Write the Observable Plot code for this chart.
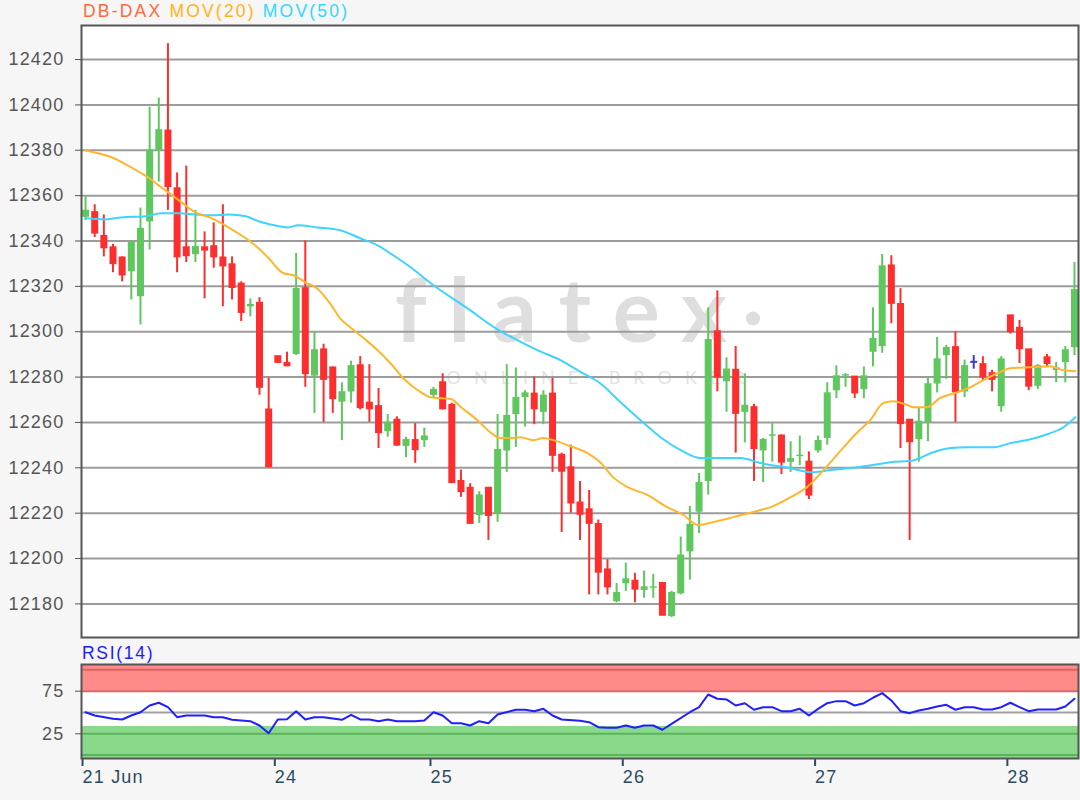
<!DOCTYPE html>
<html>
<head>
<meta charset="utf-8">
<script src="https://cdn.jsdelivr.net/npm/d3@7"></script>
<script src="https://cdn.jsdelivr.net/npm/@observablehq/plot@0.6"></script>
<style>
  html, body { margin: 0; padding: 0; background: #f6f6f6; }
  #wrap { position: relative; width: 1080px; height: 800px; background: #f6f6f6; font-family: "Liberation Sans", Arial, sans-serif; overflow: hidden; }
  #main { position: absolute; left: 0; top: 0; }
  #rsi { position: absolute; left: 0; top: 640px; }
  #legend { position: absolute; left: 83px; top: 3px; font-size: 17.5px; line-height: 1; white-space: nowrap; letter-spacing: 2.2px; }
  #rsiLabel { position: absolute; left: 82px; top: 645px; font-size: 17.5px; line-height: 1; color: #1a1aff; letter-spacing: 1.7px; }
  svg g[aria-label$="tick label"] text { letter-spacing: 1.2px; }
</style>
</head>
<body>
<div id="wrap">
  <div id="main"></div>
  <div id="rsi"></div>
  <div id="legend"><span style="color:#ff6a3d">DB-DAX</span> <span style="color:#ffb31a">MOV(20)</span> <span style="color:#33d6ff">MOV(50)</span></div>
  <div id="rsiLabel">RSI(14)</div>
</div>
<script>
// ---- Candle data (hourly bars, index 0 = first bar on 21 Jun) ----
const open = [12350,12352.5,12342,12337,12332.5,12326,12315,12348,12379.5,12388.5,
  12363,12337,12333.5,12337,12337.5,12332.5,12329.5,12321,12310.5,12312.5,
  12265.5,12289,12286,12289.5,12319,12280,12292,12284,12268.5,12273,
  12285,12268.5,12267,12255.5,12261,12249,12252,12251.5,12271.5,12277.5,
  12267.5,12234,12231,12218.5,12231,12219,12247,12263,12270.5,12272.5,
  12264,12272.5,12245.5,12240,12224.5,12221.5,12215,12195,12180.5,12188.5,
  12190,12185.5,12186.5,12189,12174,12184,12202.5,12220,12233.5,12300,
  12277.5,12283,12264,12266.5,12247,12253.5,12254,12242,12244.5,12242.5,
  12247,12252.5,12273.5,12280,12280,12274,12290.5,12293,12329,12312,
  12261,12252,12259.5,12276.5,12289,12293,12273,12286.5,12285.5,12281.5,
  12266.5,12307,12301.5,12292,12275.5,12288.5,12282.5,12286,12292.5];
const high = [12360,12356,12351.5,12338.5,12333,12340,12354.5,12399,12403,12427,
  12370,12373,12353.5,12344,12348,12356,12333,12322,12314.5,12315,
  12279.5,12289,12291,12334.5,12340,12300,12294.5,12284.5,12277.5,12287,
  12289,12285.5,12275,12263.5,12262.5,12253.5,12259.5,12257.5,12275.5,12281.5,
  12268.5,12239,12233,12229.5,12231,12263.5,12285.5,12284,12274,12280,
  12274,12279.5,12246.5,12250,12234,12230,12217,12199.5,12189,12198,
  12193.5,12194.5,12193,12189.5,12185.5,12209.5,12223,12237.5,12310.5,12318,
  12288.5,12293.5,12281.5,12268,12253,12259.5,12254.5,12251.5,12254,12247,
  12254,12277.5,12285,12281.5,12280,12284.5,12310.5,12334,12333.5,12319,
  12261,12266.5,12280,12297.5,12294,12300,12287.5,12289.5,12289,12283,
  12289,12307,12305,12292,12285.5,12290,12286.5,12293.5,12330.5];
const low = [12349,12341.5,12333,12326,12322,12314,12303,12336,12366,12353.5,
  12326,12330.5,12330.5,12314.5,12328,12311,12314,12304.5,12306.5,12272,
  12240,12286,12284.5,12289.5,12275.5,12264,12260,12264,12252,12268.5,
  12265.5,12260,12248.5,12253.5,12249.5,12244.5,12242,12249,12271,12265.5,
  12233.5,12227,12215.5,12215.5,12208,12216,12238,12249,12258,12259,
  12259,12238,12211.5,12220,12208,12184,12184,12184,12180.5,12185.5,
  12180.5,12182.5,12182.5,12175,12174,12184,12190.5,12211,12228,12273.5,
  12264.5,12246.5,12251,12234,12233.5,12242.5,12237,12238,12241,12226,
  12246.5,12250,12270.5,12275.5,12270.5,12270.5,12284.5,12290.5,12303.5,12248.5,
  12208,12242.5,12251.5,12273,12279,12260,12271,12283.5,12278.5,12273.5,
  12264.5,12299,12286,12274,12274.5,12284.5,12277.5,12277.5,12289.5];
const close = [12354,12343.5,12337,12330,12325,12340,12346,12380.5,12389.5,12364,
  12333,12333.5,12338,12336,12333,12329,12319.5,12308.5,12312.5,12275.5,
  12240.5,12286.5,12285,12319.5,12281.5,12292.5,12279,12270.5,12274,12285.5,
  12266.5,12266,12255.5,12260.5,12250,12253,12248,12254.5,12275,12266,
  12233.5,12229.5,12215.5,12228.5,12219,12248.5,12263.5,12271.5,12273.5,12266,
  12272.5,12245.5,12238.5,12224.5,12219.5,12215.5,12194,12187.5,12185.5,12191.5,
  12186.5,12188,12188,12175,12185.5,12202,12215.5,12234,12297,12280,
  12284,12264,12268,12248.5,12253,12255,12242.5,12244.5,12246,12228,
  12252.5,12273.5,12281,12281.5,12273,12281,12297.5,12329.5,12312.5,12259.5,
  12251.5,12261,12277.5,12288.5,12293.5,12273.5,12285.5,12286.5,12280,12279,
  12288.5,12300,12292.5,12276,12285.5,12286,12284.5,12292.5,12319];

// ---- Moving averages (bar index, value) ----
const ma20Idx = [0,2.9,5,6.5,8.3,10.2,12,13.8,15.6,17.5,18.9,19.9,21.6,22.7,24,25.3,26.7,27.8,28.9,30.4,31.9,33.3,34.7,36.3,37.7,39.9,41,42.8,44.2,45.3,46.4,47.5,48.9,50,51.1,52.9,54.8,56.2,57.6,59.2,61.4,63.5,65.3,66.9,68.6,70.4,73.7,74.8,77,78.8,80.6,82.8,84.3,85.7,87.1,88.2,89.8,90.4,91.9,93.3,95.2,96.6,98,99.6,101,103.5,105.3,106.8,108.1];
const ma20Val = [12379.9,12376.8,12372.4,12368.9,12363.6,12357.9,12352.6,12350,12346,12341.2,12336.8,12332.8,12325.8,12324.9,12321.8,12319.1,12312.5,12305.9,12302,12297.1,12291.8,12286.1,12279.5,12274.2,12271.1,12270.3,12266.7,12261,12255.7,12253.1,12253.1,12253.5,12252.2,12253.1,12252.2,12249.6,12246.5,12242.5,12235.9,12231.5,12228,12222.7,12219.2,12214.8,12216.1,12217.9,12221.4,12222.7,12227.1,12231.5,12239,12249.1,12255.7,12261,12268.5,12269.4,12267.6,12266.7,12266.7,12270.7,12273.3,12275.5,12278.6,12281.7,12283.9,12284.4,12284.8,12283,12282.6];
const ma50Idx = [0,2.2,3.9,6.6,8.3,10.2,12,13.8,15.6,17.5,18.9,20.2,22.1,23.2,25.3,27.8,30,31.9,33.6,35.5,37.7,42,44.8,47.2,49.4,51.9,54.1,56.2,58.4,60.6,62.8,65,67.2,69.3,71.5,73.7,76.9,79.2,81.4,83.5,86.5,87.9,90.1,92.6,94.5,96.3,99.2,101,103.2,105.1,106.8,108.1];
const ma50Val = [12350,12349.5,12350.4,12350.9,12352.2,12352.2,12351.7,12351.3,12351.7,12350.9,12348.7,12347.3,12346,12346.9,12346,12344.7,12341.2,12338.1,12333.7,12328.4,12321.4,12309.5,12301.5,12296.2,12291.8,12287.4,12282.2,12277.3,12269,12261,12253.5,12247.8,12244.3,12244.3,12244.3,12242.1,12239.9,12238.1,12239,12239.9,12241.6,12242.5,12243,12246.9,12248.7,12249.1,12249.1,12250.9,12252.6,12254.9,12257.9,12262.3];

// ---- RSI(14) ----
const rsiIdx = [0,1,3,4,5,6,7,8,9,10,11,13,14,15,16,18,19,20,21,22,23,24,25,26,28,29,30,31,32,33,34,36,37,38,39,40,41,42,43,44,45,47,48,49,50,51,52,54,55,56,57,58,59,60,61,62,63,64,66,67,68,69,70,71,72,73,74,75,76,77,78,79,80,81,82,83,84,85,86,87,88,89,90,91,92,93,94,95,96,97,98,99,100,101,102,103,104,105,106,107,108];
const rsiVal = [50.3,46.5,42.6,41.8,46.5,50.3,58.2,61.4,56.2,44.5,46.5,46.5,44.5,44.5,41.4,39.8,34.7,25.7,41.8,42.1,51.5,41.8,44.5,44.5,41.4,47.3,41.8,41.8,39.8,41.8,39.8,39.8,40.6,50.3,46.5,37.4,37.4,34.7,39.8,37.4,47.7,53.2,53.2,51.5,54.3,46.5,41.8,40.2,38.6,32.7,32,32,34.7,32,34.7,34.7,29.7,36.7,50.3,56.2,71.1,66.1,65.3,58.2,60.9,53.2,56.2,56.2,51.5,51.5,54.3,46.5,54.3,60.9,63.3,63.3,58.2,60.9,67.3,72.7,64.1,51.5,49.2,52.3,54.3,57,59,53.2,56.2,56.2,53.5,53.5,56.2,61.4,56.2,51.5,53.5,53.5,53.5,57,66.1];

// ---- Axis ticks ----
const priceTicks = [12180,12200,12220,12240,12260,12280,12300,12320,12340,12360,12380,12400,12420];
const rsiTicks = [25,75];
const dayTickIdx = [0,21,38,59,80,101];
const dayLabels = ["21 Jun","24","25","26","27","28"];

// ---- Build tables ----
const UP = "#5ec75e", DOWN = "#ff2e2e", FLAT = "#3b3bd6";
const candles = open.map((o, i) => ({
  i, open: o, high: high[i], low: low[i], close: close[i],
  color: close[i] > o ? UP : close[i] < o ? DOWN : FLAT
}));
const ma20 = ma20Idx.map((x, k) => ({x, y: ma20Val[k]}));
const ma50 = ma50Idx.map((x, k) => ({x, y: ma50Val[k]}));
const rsi = rsiIdx.map((x, k) => ({x, y: rsiVal[k]}));

const xDomain = [-0.44, 108.44];
const font = "'Liberation Sans', Arial, sans-serif";

const main = Plot.plot({
  width: 1080, height: 640,
  marginTop: 25, marginBottom: 3, marginLeft: 81, marginRight: 2,
  x: {domain: xDomain, axis: null},
  y: {domain: [12165.2, 12435]},
  color: {type: "identity"},
  style: {background: "transparent", fontFamily: font, overflow: "visible"},
  marks: [
    Plot.frame({fill: "white", stroke: "none"}),
    Plot.text(["flatex"], {frameAnchor: "middle", dx: -8, dy: -18, fontSize: 88, fontWeight: 700, fontFamily: "Lato", fill: "#dedede"}),
    Plot.dot([0], {frameAnchor: "middle", dx: 173, dy: -13, r: 7, fill: "#dedede", stroke: "none"}),
    Plot.text(["ONLINE BROKER"], {frameAnchor: "middle", dx: 22, dy: 47, fontSize: 18, fontFamily: "Lato", fill: "#e3e3e3"}),
    Plot.gridY(priceTicks, {stroke: "#9c9c9c", strokeOpacity: 1, strokeWidth: 2}),
    Plot.axisY(priceTicks, {label: null, tickSize: 6, tickPadding: 11, fontSize: 18, fill: "#555", stroke: "#555", tickFormat: d => String(d)}),
    Plot.ruleX(candles, {x: "i", y1: "low", y2: "high", stroke: "color", strokeWidth: 2}),
    Plot.ruleX(candles, {x: "i", y1: "open", y2: "close", stroke: "color", strokeWidth: 7, insetTop: -1, insetBottom: -1}),
    Plot.line(ma50, {x: "x", y: "y", stroke: "#3fd3ff", strokeWidth: 2, curve: "monotone-x"}),
    Plot.line(ma20, {x: "x", y: "y", stroke: "#ffb62e", strokeWidth: 2, curve: "monotone-x"}),
    Plot.frame({stroke: "#555", strokeWidth: 2})
  ]
});
d3.select(main).selectAll("text").filter(function() { return this.textContent === "flatex"; }).attr("letter-spacing", 22);
d3.select(main).selectAll("text").filter(function() { return this.textContent === "ONLINE BROKER"; }).attr("letter-spacing", 13);
document.getElementById("main").appendChild(main);

const rsiPlot = Plot.plot({
  width: 1080, height: 160,
  marginTop: 24, marginBottom: 42, marginLeft: 81, marginRight: 2,
  x: {domain: xDomain},
  y: {domain: [-4, 106.3]},
  style: {background: "transparent", fontFamily: font, overflow: "visible"},
  marks: [
    Plot.frame({fill: "white", stroke: "none"}),
    Plot.rect([0], {y1: 75, y2: 106.3, fill: "#ff8a8a"}),
    Plot.rect([0], {y1: -4, y2: 33.6, fill: "#8ad98a"}),
    Plot.ruleY([100, 75], {stroke: "#e06262", strokeWidth: 2}),
    Plot.ruleY([25, 0], {stroke: "#5cb35c", strokeWidth: 2}),
    Plot.ruleY([50], {stroke: "#a0a0a0", strokeWidth: 2}),
    Plot.axisY(rsiTicks, {label: null, tickSize: 6, tickPadding: 11, fontSize: 18, fill: "#555", stroke: "#555"}),
    Plot.axisX(dayTickIdx, {label: null, tickSize: 8, tickPadding: 4, fontSize: 18, textAnchor: "start", dx: -3, fill: "#2d4b5e", stroke: "#2d4b5e", strokeWidth: 2, tickFormat: d => dayLabels[dayTickIdx.indexOf(d)]}),
    Plot.line(rsi, {x: "x", y: "y", stroke: "#1f1fff", strokeWidth: 2}),
    Plot.frame({stroke: "#555", strokeWidth: 2})
  ]
});
document.getElementById("rsi").appendChild(rsiPlot);
</script>
</body>
</html>
